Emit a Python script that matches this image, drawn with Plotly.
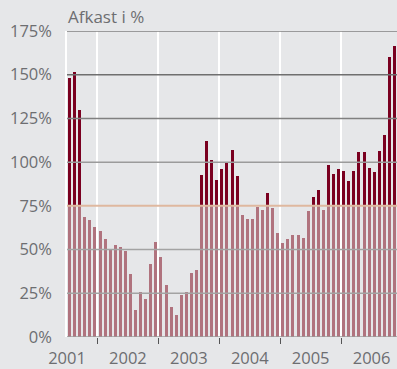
import pandas as pd
import plotly.graph_objects as go

# Monthly return, July 2001 - November 2006 (percent)
months = [p.strftime("%Y-%m") for p in pd.period_range("2001-07", "2006-11", freq="M")]
returns = [
    148, 151.5, 130, 68.5, 67, 63, 60.5, 56, 49.5, 52.5,
    51.3, 49, 36, 15.5, 25.5, 21.5, 42, 54.5, 45.5, 30,
    17, 12.5, 24, 26, 36.5, 38.5, 92.7, 112.2, 101.2, 89.8,
    96.1, 100.2, 107.2, 92.3, 70, 67.6, 67.6, 74.4, 72.7, 82.5,
    73.9, 59.6, 53.8, 56, 58.4, 58.4, 56.7, 72.2, 80.2, 84.2,
    72.7, 98.5, 93.3, 96.2, 95, 89.3, 95, 105.9, 105.9, 96.8,
    94.5, 106.4, 115.6, 160, 166.5,
]
threshold = 75
y_ticks = [0, 25, 50, 75, 100, 125, 150, 175]
y_tick_text = [f"{v}%" for v in y_ticks]
years = ["2001", "2002", "2003", "2004", "2005", "2006"]

x = list(range(len(months)))
lower = [min(v, threshold) for v in returns]
upper = [max(v - threshold, 0) for v in returns]

# year label at July of each year, year boundary at January
year_centers = [months.index(f"{y}-07") - 0.5 for y in years]

BG = "#e6e7e9"
LIGHT = "#b0737e"
DARK = "#7a0020"
TXT = "#6d6e71"
FONT = "Open Sans"

fig = go.Figure()
fig.add_bar(x=x, y=lower, marker_color=LIGHT, marker_line_width=0, customdata=months)
fig.add_bar(x=x, y=upper, marker_color=DARK, marker_line_width=0, customdata=months)

grid_colors = {0: "#9b9b9b", 25: "#a3a3a3", 50: "#a3a3a3", 75: "#dfb89f",
               100: "#9b9b9b", 125: "#808080", 150: "#6f6f6f", 175: "#808080"}
for v in y_ticks:
    fig.add_shape(type="line", xref="paper", x0=0, x1=1, yref="y", y0=v, y1=v,
                  line=dict(color=grid_colors[v], width=2 if v == threshold else 1.5),
                  layer="above")

fig.add_annotation(text="Afkast i %", xref="paper", yref="paper", x=-0.003, y=1.046,
                   xanchor="left", yanchor="middle", showarrow=False,
                   font=dict(family=FONT, size=17, color=TXT))

fig.update_layout(
    width=397, height=369,
    margin=dict(l=67, r=0, t=31, b=32),
    paper_bgcolor=BG, plot_bgcolor=BG,
    barmode="stack", bargap=0.41,
    showlegend=False,
    font=dict(family=FONT, size=16, color=TXT),
    xaxis=dict(
        range=[-0.5, len(months) - 0.5],
        tickmode="array", tickvals=year_centers, ticktext=years,
        ticks="", showgrid=False, zeroline=False, showline=False,
        ticklabelstandoff=9,
        tickfont=dict(family=FONT, size=16.5, color=TXT),
        minor=dict(tick0=5.5, dtick=12, ticks="outside", ticklen=6, tickwidth=1,
                   tickcolor="#555555", showgrid=True, gridcolor="#ffffff", gridwidth=1.5),
    ),
    yaxis=dict(
        range=[0, 175],
        tickmode="array", tickvals=y_ticks, ticktext=y_tick_text,
        showgrid=False, zeroline=False,
        showline=True, linecolor="#ffffff", linewidth=1.5,
        ticks="", ticklabelstandoff=10, layer="below traces",
        tickfont=dict(family=FONT, size=16.5, color=TXT),
    ),
)

fig.write_html("out.html")
